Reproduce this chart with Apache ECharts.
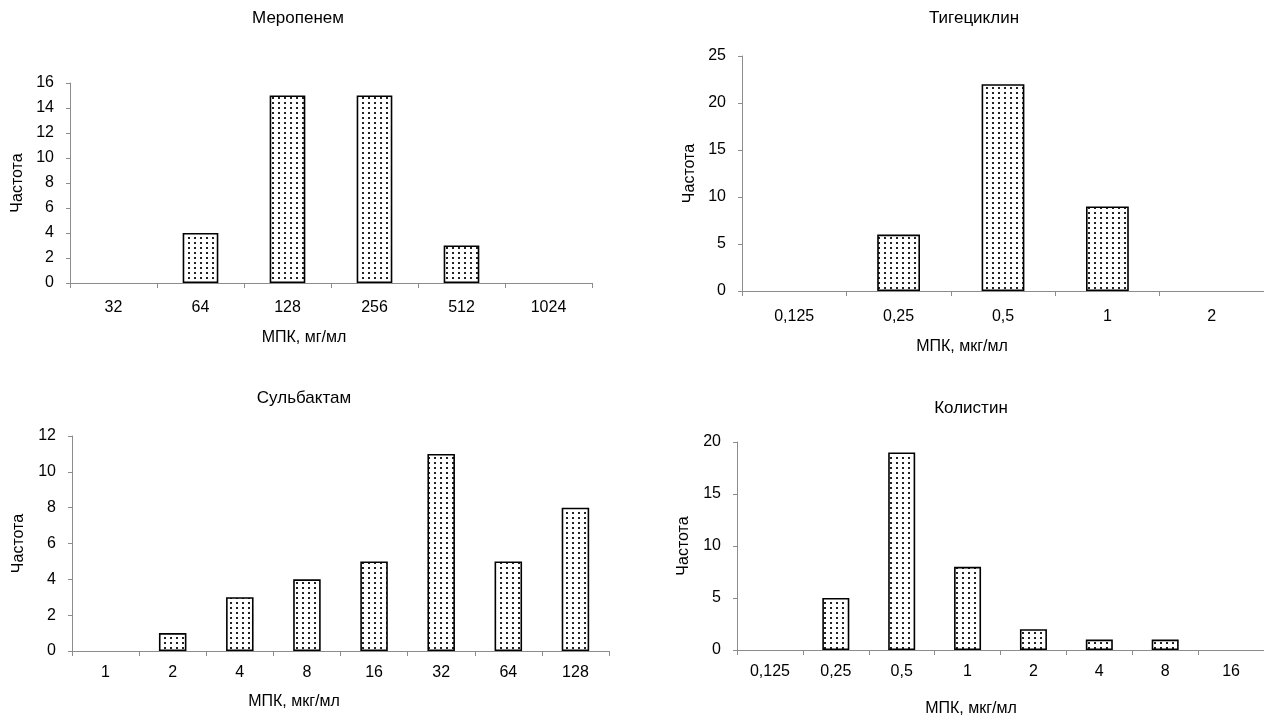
<!DOCTYPE html>
<html>
<head>
<meta charset="utf-8">
<title>МПК</title>
<script src="https://cdn.jsdelivr.net/npm/echarts@6/dist/echarts.min.js"></script>
<style>
    html, body { margin: 0; padding: 0; background: #fff; }
    #main { width: 1264px; height: 718px; }
</style>
</head>
<body>
<div id="main"></div>
<script>
var mero_cat = ['32', '64', '128', '256', '512', '1024'];
var mero_val = [0, 4, 15, 15, 3, 0];

var tige_cat = ['0,125', '0,25', '0,5', '1', '2'];
var tige_val = [0, 6, 22, 9, 0];

var sulb_cat = ['1', '2', '4', '8', '16', '32', '64', '128'];
var sulb_val = [0, 1, 3, 4, 5, 11, 5, 8];

var koli_cat = ['0,125', '0,25', '0,5', '1', '2', '4', '8', '16'];
var koli_val = [0, 5, 19, 8, 2, 1, 1, 0];

var titles = ['Меропенем', 'Тигециклин', 'Сульбактам', 'Колистин'];
var x_names = ['МПК, мг/мл', 'МПК, мкг/мл', 'МПК, мкг/мл', 'МПК, мкг/мл'];
var y_name = 'Частота';

var FONT = '"Liberation Sans", Arial, sans-serif';
var AXIS_GRAY = '#8c8c8c';

// dotted fill like the excel pattern
function dots() {
    var c = document.createElement('canvas');
    c.width = 6;
    c.height = 5;
    var ctx = c.getContext('2d');
    ctx.fillStyle = '#fff';
    ctx.fillRect(0, 0, 6, 5);
    ctx.fillStyle = '#222';
    ctx.fillRect(2, 2, 2, 2);
    return c;
}

function bar_data(vals) {
    var out = [];
    for (var i = 0; i < vals.length; i++) {
        if (vals[i] == 0) {
            out.push({ value: 0, itemStyle: { borderWidth: 0, opacity: 0 } });
        } else {
            out.push(vals[i]);
        }
    }
    return out;
}

function text(x, y, s, size) {
    return {
        type: 'text',
        x: x,
        y: y,
        style: {
            text: s,
            fill: '#000',
            font: size + 'px ' + FONT,
            align: 'center',
            verticalAlign: 'middle'
        }
    };
}

function add_charts() {
    var myChart = echarts.init(document.getElementById('main'), null, { renderer: 'canvas' });
    var pattern = { image: dots(), repeat: 'repeat' };

    var grids = [
        { left: 70, top: 83, width: 522, height: 200 },
        { left: 742, top: 56, width: 533, height: 235 },
        { left: 72, top: 436, width: 537, height: 215 },
        { left: 737, top: 442, width: 536, height: 208 }
    ];
    var cats = [mero_cat, tige_cat, sulb_cat, koli_cat];
    var vals = [mero_val, tige_val, sulb_val, koli_val];
    var maxs = [16, 25, 12, 20];
    var steps = [2, 5, 2, 5];
    var lbl_margin = [17, 18, 14, 14];
    var name_gap = [44, 44, 45, 45];

    var xAxis = [], yAxis = [], series = [];
    for (var i = 0; i < 4; i++) {
        xAxis.push({
            type: 'category',
            gridIndex: i,
            data: cats[i],
            boundaryGap: true,
            axisLine: { show: true, lineStyle: { color: AXIS_GRAY, width: 1 } },
            axisTick: { show: true, length: 5, lineStyle: { color: AXIS_GRAY } },
            axisLabel: { color: '#000', fontSize: 16, fontFamily: FONT, margin: lbl_margin[i] },
            splitLine: { show: false }
        });
        yAxis.push({
            type: 'value',
            gridIndex: i,
            min: 0,
            max: maxs[i],
            interval: steps[i],
            name: y_name,
            nameLocation: 'middle',
            nameRotate: 90,
            nameGap: name_gap[i],
            nameTextStyle: { color: '#000', fontSize: 16, fontFamily: FONT },
            axisLine: { show: true, lineStyle: { color: AXIS_GRAY, width: 1 } },
            axisTick: { show: true, length: 4, lineStyle: { color: AXIS_GRAY } },
            axisLabel: { color: '#000', fontSize: 16, fontFamily: FONT, margin: 16 },
            splitLine: { show: false }
        });
        series.push({
            type: 'bar',
            xAxisIndex: i,
            yAxisIndex: i,
            barWidth: '41%',
            itemStyle: { color: pattern, borderColor: '#000', borderWidth: 1.6 },
            data: bar_data(vals[i])
        });
    }

    var option = {
        animation: false,
        backgroundColor: '#fff',
        grid: grids,
        xAxis: xAxis,
        yAxis: yAxis,
        series: series,
        graphic: [
            text(298, 18, titles[0], 17),
            text(974, 18, titles[1], 17),
            text(304, 398, titles[2], 17),
            text(971, 408, titles[3], 17),
            text(304, 338, x_names[0], 16),
            text(962, 347, x_names[1], 16),
            text(294, 702, x_names[2], 16),
            text(971, 709, x_names[3], 16)
        ]
    };
    myChart.setOption(option);
}

add_charts();
</script>
</body>
</html>
